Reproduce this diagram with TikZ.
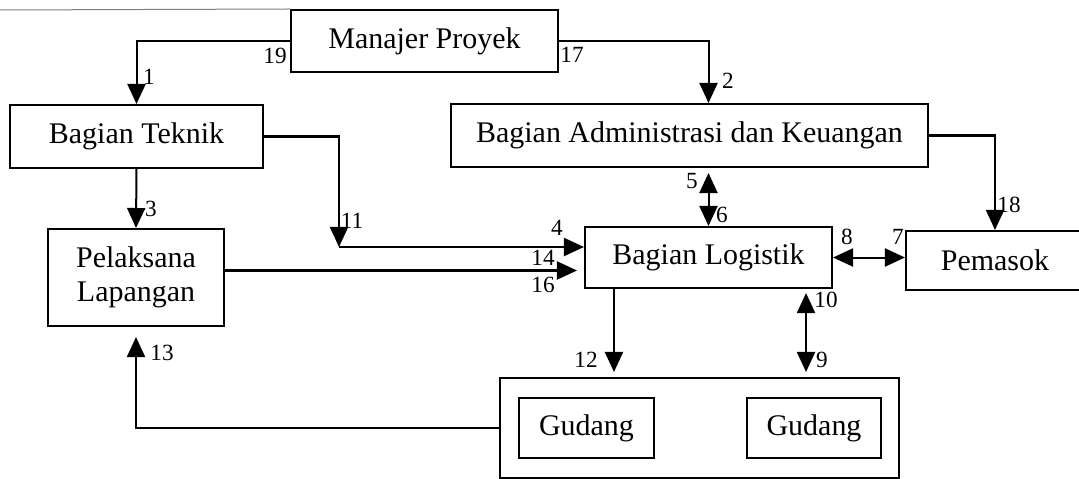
\documentclass[tikz,border=0pt]{standalone}
\usepackage{fontspec}
\setmainfont{Liberation Serif}
\usetikzlibrary{arrows.meta,positioning,calc}

\begin{document}
\begin{tikzpicture}[x=0.025cm, y=-0.025cm,
				>={Triangle[length=0.5cm, width=0.45cm]},
				kotak/.style={rectangle, draw, line width=0.05cm, font=\fontsize{21.3}{24.5}\selectfont, align=center, inner sep=0pt},
				alur/.style={line width=0.05cm},
				nomor/.style={font=\fontsize{16.5}{18}\selectfont, inner sep=0pt}]
				\useasboundingbox (0,0) rectangle (1079,479);
				\node[kotak, minimum width=6.675cm, minimum height=1.55cm] (mp) at (424.5,41) {Manajer Proyek};
				\node[kotak, minimum width=6.325cm, minimum height=1.575cm] (bt) at (136.5,136.5) {Bagian Teknik};
				\node[kotak, minimum width=11.925cm, minimum height=1.575cm] (bak) at (689.5,135.5) {Bagian Administrasi dan Keuangan};
				\node[kotak, minimum width=4.4cm, minimum height=2.425cm] (pl) at (136,277.5) {Pelaksana\\Lapangan};
				\node[kotak, minimum width=6.175cm, minimum height=1.525cm] (bl) at (708.5,257.5) {Bagian Logistik};
				\node[kotak, minimum width=4.45cm, minimum height=1.475cm] (pm) at (995,260.5) {Pemasok};
				\node[kotak, minimum width=9.975cm, minimum height=2.5cm] (gd) at (699.5,428) {};
				\node[kotak, minimum width=3.375cm, minimum height=1.5cm, right=0.475cm of gd.west] (g1) {Gudang};
				\node[kotak, minimum width=3.35cm, minimum height=1.5cm, left=0.45cm of gd.east] (g2) {Gudang};
				\coordinate (kiri) at (0,10);
				\coordinate (k11) at (339,247);
				
				\draw[line width=0.025cm, black!50] (kiri) -- (mp.north west);
				\draw[alur, ->] (mp.west) -| (bt.north);
				\draw[alur, ->] (mp.east) -| (bl.north |- bak.north);
				\draw[alur, ->] (bt.south) -- (pl.north);
				\draw[alur, ->] (bt.east) -| (k11);
				\draw[alur, ->] (k11) -- (k11 -| bl.west);
				\draw[alur, ->, shorten >=0.175cm] ([yshift=0.175cm]pl.east) -- ([yshift=0.175cm]pl.east -| bl.west);
				\draw[alur, <->, shorten <=0.125cm] (bl.north |- bak.south) -- (bl.north);
				\draw[alur, ->] (bak.east) -| (pm.north);
				\draw[alur, <->] (bl.east) -- (bl.east -| pm.west);
				\draw[alur, ->, shorten >=0.125cm] ([xshift=0.75cm]bl.south west) -- ([xshift=0.75cm]bl.south west |- gd.north);
				\draw[alur, <->, shorten <=0.1cm, shorten >=0.125cm] ([xshift=-0.675cm]bl.south east) -- ([xshift=-0.675cm]bl.south east |- gd.north);
				\draw[alur, ->, shorten >=0.25cm] (gd.west) -| (pl.south);
				
				\node[nomor] (n19) at (275,56) {19};
				\node[nomor] (n1) at (149,77) {1};
				\node[nomor] (n17) at (572,55) {17};
				\node[nomor] (n2) at (728,81) {2};
				\node[nomor] (n3) at (151,209) {3};
				\node[nomor] (n11) at (352,221) {11};
				\node[nomor] (n5) at (692,181) {5};
				\node[nomor] (n6) at (722,215) {6};
				\node[nomor] (n18) at (1009,205) {18};
				\node[nomor] (n4) at (557,228) {4};
				\node[nomor] (n14) at (543,258) {14};
				\node[nomor] (n16) at (543,285) {16};
				\node[nomor] (n8) at (847,237) {8};
				\node[nomor] (n7) at (898,237) {7};
				\node[nomor] (n10) at (826,300) {10};
				\node[nomor] (n9) at (822,360) {9};
				\node[nomor] (n12) at (586,360) {12};
				\node[nomor] (n13) at (162,353) {13};
			\end{tikzpicture}
\end{document}
